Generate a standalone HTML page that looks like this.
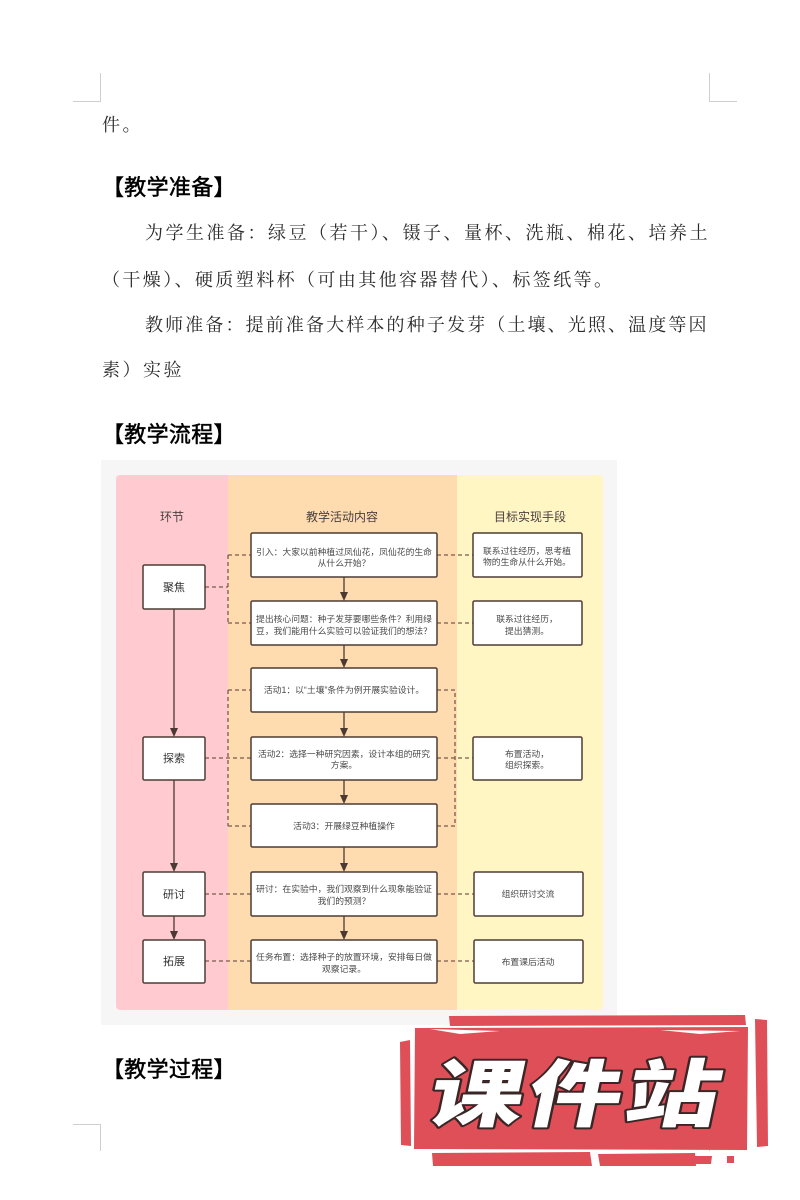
<!DOCTYPE html>
<html><head><meta charset="utf-8">
<style>
html,body{margin:0;padding:0;background:#fff;}
body{width:800px;height:1200px;position:relative;overflow:hidden;}
.t{position:absolute;white-space:nowrap;font-family:"Liberation Serif","Noto Serif CJK SC","Noto Sans CJK SC",serif;font-size:18px;line-height:24px;color:#2a2a2a;letter-spacing:2.5px;}
.h{position:absolute;white-space:nowrap;font-family:"Liberation Sans","Noto Sans CJK SC",sans-serif;font-size:22px;line-height:28px;color:#000;font-weight:400;-webkit-text-stroke:0.5px #000;letter-spacing:0.3px;}
svg{position:absolute;left:0;top:0;}
</style></head><body>
<svg width="800" height="1200" viewBox="0 0 800 1200">
  <g stroke="#cfcfcf" stroke-width="1" fill="none">
    <path d="M100.5 73 V101.5 H73"/>
    <path d="M709.5 73 V101.5 H737"/>
    <path d="M73 1124.5 H100.5 V1151"/>
    <path d="M737 1124.5 H709.5 V1151"/>
  </g>
</svg>

<div class="t" style="left:102px;top:113px;">件。</div>
<div class="h" style="left:102px;top:174px;">【教学准备】</div>
<div class="t" style="left:145px;top:221px;">为学生准备：绿豆（若干）、镊子、量杯、洗瓶、棉花、培养土</div>
<div class="t" style="left:102px;top:268px;letter-spacing:2.4px;">（干燥）、硬质塑料杯（可由其他容器替代）、标签纸等。</div>
<div class="t" style="left:145px;top:313px;letter-spacing:2.13px;">教师准备：提前准备大样本的种子发芽（土壤、光照、温度等因</div>
<div class="t" style="left:102px;top:358px;">素）实验</div>
<div class="h" style="left:102px;top:421px;">【教学流程】</div>
<div class="h" style="left:102px;top:1056px;">【教学过程】</div>

<svg width="800" height="1200" viewBox="0 0 800 1200">
  <rect x="101" y="460" width="516" height="565" fill="#f6f6f6"/>
  <rect x="116" y="475" width="120" height="535" rx="4" fill="#ffcbd1"/>
  <rect x="449" y="475" width="154" height="535" rx="4" fill="#fff6c3"/>
  <rect x="228" y="475" width="229" height="535" fill="#fedcaf"/>

  <g font-family="Liberation Sans, Noto Sans CJK SC, sans-serif" font-size="12" fill="#4a4040" text-anchor="middle">
    <text x="172" y="521">环节</text>
    <text x="342" y="521">教学活动内容</text>
    <text x="530" y="521">目标实现手段</text>
  </g>

  <g stroke="#7b5a4e" stroke-width="1.3" stroke-dasharray="4 3" fill="none">
    <path d="M205 587 H228"/>
    <path d="M228 555 V623"/>
    <path d="M228 555 H251"/>
    <path d="M228 623 H251"/>
    <path d="M437 555 H473"/>
    <path d="M437 623 H473"/>
    <path d="M205 758 H251"/>
    <path d="M228 690 V826"/>
    <path d="M228 690 H251"/>
    <path d="M228 826 H251"/>
    <path d="M437 690 H455 V826 H437"/>
    <path d="M437 758 H473"/>
    <path d="M205 894 H251"/>
    <path d="M437 894 H474"/>
    <path d="M205 961 H251"/>
    <path d="M437 961 H474"/>
  </g>

  <g stroke="#4a3a32" stroke-width="1.3" fill="none">
    <path d="M174 609 V730"/>
    <path d="M174 780 V865"/>
    <path d="M174 916 V933"/>
    <path d="M344 577 V594"/>
    <path d="M344 645 V661"/>
    <path d="M344 712 V730"/>
    <path d="M344 780 V797"/>
    <path d="M344 847 V865"/>
    <path d="M344 916 V933"/>
  </g>
  <g fill="#4a3a32">
    <path d="M170 728 L178 728 L174 737 Z"/>
    <path d="M170 863 L178 863 L174 872 Z"/>
    <path d="M170 931 L178 931 L174 940 Z"/>
    <path d="M340 592 L348 592 L344 601 Z"/>
    <path d="M340 659 L348 659 L344 668 Z"/>
    <path d="M340 728 L348 728 L344 737 Z"/>
    <path d="M340 795 L348 795 L344 804 Z"/>
    <path d="M340 863 L348 863 L344 872 Z"/>
    <path d="M340 931 L348 931 L344 940 Z"/>
  </g>

  <g fill="#fff" stroke="#4d3d35" stroke-width="1.5">
    <rect x="143" y="565" width="62" height="44" rx="1.5"/>
    <rect x="143" y="737" width="62" height="43" rx="1.5"/>
    <rect x="143" y="872" width="62" height="44" rx="1.5"/>
    <rect x="143" y="940" width="62" height="43" rx="1.5"/>

    <rect x="251" y="533" width="186" height="44" rx="1.5"/>
    <rect x="251" y="601" width="186" height="44" rx="1.5"/>
    <rect x="251" y="668" width="186" height="44" rx="1.5"/>
    <rect x="251" y="737" width="186" height="43" rx="1.5"/>
    <rect x="251" y="804" width="186" height="43" rx="1.5"/>
    <rect x="251" y="872" width="186" height="44" rx="1.5"/>
    <rect x="251" y="940" width="186" height="43" rx="1.5"/>

    <rect x="473" y="533" width="109" height="44" rx="1.5"/>
    <rect x="473" y="601" width="109" height="44" rx="1.5"/>
    <rect x="473" y="737" width="109" height="43" rx="1.5"/>
    <rect x="474" y="872" width="109" height="44" rx="1.5"/>
    <rect x="474" y="940" width="109" height="43" rx="1.5"/>
  </g>

  <g font-family="Liberation Sans, Noto Sans CJK SC, sans-serif" font-size="11" fill="#333" text-anchor="middle">
    <text x="174" y="591">聚焦</text>
    <text x="174" y="762">探索</text>
    <text x="174" y="898">研讨</text>
    <text x="174" y="965">拓展</text>
  </g>

  <g font-family="Liberation Sans, Noto Sans CJK SC, sans-serif" font-size="8.8" fill="#4a4a4a" text-anchor="middle">
    <text x="344" y="555">引入：大家以前种植过凤仙花，凤仙花的生命</text>
    <text x="344" y="566">从什么开始？</text>
    <text x="344" y="622">提出核心问题：种子发芽要哪些条件？利用绿</text>
    <text x="344" y="634">豆，我们能用什么实验可以验证我们的想法？</text>
    <text x="344" y="693">活动1：以“土壤”条件为例开展实验设计。</text>
    <text x="344" y="757">活动2：选择一种研究因素，设计本组的研究</text>
    <text x="344" y="768">方案。</text>
    <text x="344" y="829">活动3：开展绿豆种植操作</text>
    <text x="344" y="892">研讨：在实验中，我们观察到什么现象能验证</text>
    <text x="344" y="904">我们的预测？</text>
    <text x="344" y="960">任务布置：选择种子的放置环境，安排每日做</text>
    <text x="344" y="972">观察记录。</text>

    <text x="527" y="554">联系过往经历，思考植</text>
    <text x="527" y="565">物的生命从什么开始。</text>
    <text x="527" y="622">联系过往经历，</text>
    <text x="527" y="634">提出猜测。</text>
    <text x="527" y="757">布置活动，</text>
    <text x="527" y="768">组织探索。</text>
    <text x="528" y="897">组织研讨交流</text>
    <text x="528" y="965">布置课后活动</text>
  </g>

  <g fill="#df4f58">
    <path d="M449 1016 L745 1015 L746 1025 L450 1026 Z"/>
    <path d="M415 1028 L748 1027 L747 1150 L414 1149 Z"/>
    <path d="M400 1042 L410 1040 L411 1146 L401 1145 Z"/>
    <path d="M755 1019 L767 1020 L768 1146 L757 1147 Z"/>
    <path d="M432 1153 L590 1152 L592 1166 L433 1166 Z"/>
    <path d="M598 1154 L695 1153 L696 1166 L600 1166 Z"/>
    <path d="M690 1156 L712 1156 L711 1164 L690 1164 Z"/>
    <path d="M727 1156 L734 1156 L734 1163 L727 1163 Z"/>
  </g>
  <g fill="#fff">
    <path d="M430 1029 L500 1031 L460 1034 Z"/>
    <path d="M660 1030 L740 1031 L700 1034 Z"/>
  </g>
  <g transform="translate(579,1089) skewX(-12) scale(1,0.78)">
    <text x="0" y="0" text-anchor="middle" dominant-baseline="central"
      font-family="Noto Sans CJK SC, sans-serif" font-weight="900" font-size="94"
      letter-spacing="4" fill="#fff" stroke="#3a2626" stroke-width="5" paint-order="stroke" stroke-linejoin="round">课件站</text>
  </g>
</svg>
</body></html>
